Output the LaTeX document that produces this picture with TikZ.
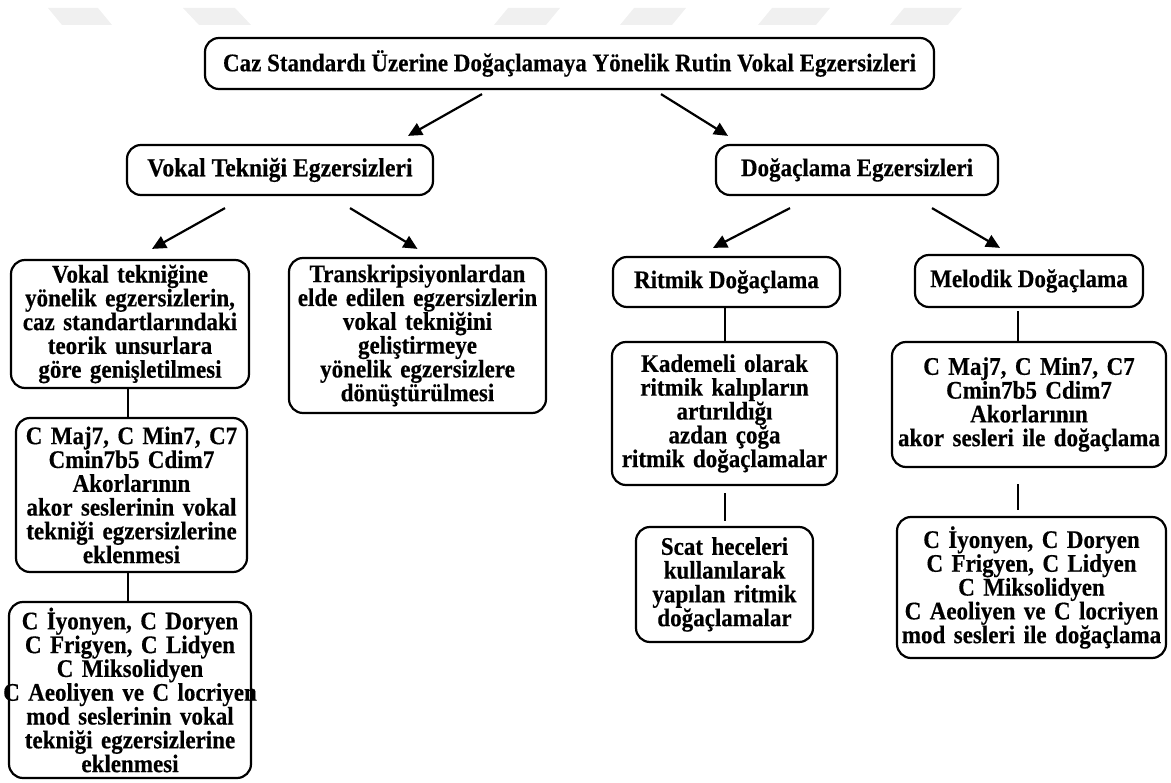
\documentclass[tikz,border=0pt]{standalone}
\usepackage{fontspec}
\setmainfont{Liberation Serif}
\newfontfamily\dfont{Liberation Serif}[FakeStretch=0.91, BoldFeatures={FakeStretch=0.91, FakeBold=0.4}]
\usetikzlibrary{arrows.meta,calc}
\tikzset{
  box/.style={draw=black, line width=2.2pt, rounded corners=14pt, fill=white,
    align=center, inner sep=0pt, font=\dfont\fontsize{25.3}{23.8}\selectfont\bfseries},
  arr/.style={line width=2.2pt, -{Triangle[length=14pt,width=13pt]}},
  lnk/.style={line width=2.2pt},
  wm/.style={fill=black!6, draw=none}
}
\begin{document}
\begin{tikzpicture}[x=1pt,y=-1pt]
\useasboundingbox (0,0) rectangle (1171,783);
% watermark shapes
\fill[wm] (48,8) -- (98,8) -- (112,25) -- (62,25) -- cycle;
\fill[wm] (183,8) -- (235,8) -- (251,25) -- (199,25) -- cycle;
\fill[wm] (508,8) -- (560,8) -- (546,25) -- (494,25) -- cycle;
\fill[wm] (634,8) -- (686,8) -- (672,25) -- (620,25) -- cycle;
\fill[wm] (772,8) -- (830,8) -- (816,25) -- (758,25) -- cycle;
\fill[wm] (904,8) -- (962,8) -- (948,25) -- (890,25) -- cycle;

\node[box, minimum width=729pt, minimum height=51pt, font=\dfont\fontsize{25.3}{24}\selectfont\bfseries] (top) at (569.5,63.5)
  {Caz Standardı Üzerine Doğaçlamaya Yönelik Rutin Vokal Egzersizleri};
\node[box, minimum width=306pt, minimum height=50pt, font=\dfont\fontsize{26}{24}\selectfont\bfseries] (vt) at (280,170)
  {Vokal Tekniği Egzersizleri};
\node[box, minimum width=282pt, minimum height=50pt] (de) at (857,170)
  {Doğaçlama Egzersizleri};

\node[box, text width=238pt, minimum height=128pt] (l1) at (130,324)
  {Vokal tekniğine\\ yönelik egzersizlerin,\\ caz standartlarındaki\\ teorik unsurlara\\ göre genişletilmesi};
\node[box, text width=231pt, minimum height=154pt] (l2) at (131.5,495)
  {C Maj7, C Min7, C7\\ Cmin7b5 Cdim7\\ Akorlarının\\ akor seslerinin vokal\\ tekniği egzersizlerine\\ eklenmesi};
\node[box, text width=242pt, minimum height=176pt] (l3) at (130,690)
  {C İyonyen, C Doryen\\ C Frigyen, C Lidyen\\ C Miksolidyen\\ \makebox[\linewidth][c]{C Aeoliyen ve C locriyen}\\ mod seslerinin vokal\\ tekniği egzersizlerine\\ eklenmesi};
\node[box, text width=257pt, minimum height=155pt] (tr) at (417.5,335.5)
  {Transkripsiyonlardan\\ elde edilen egzersizlerin\\ vokal tekniğini\\ geliştirmeye\\ yönelik egzersizlere\\ dönüştürülmesi};

\node[box, minimum width=227pt, minimum height=50pt] (rd) at (726.5,282)
  {Ritmik Doğaçlama};
\node[box, text width=225pt, minimum height=143pt] (kd) at (724.5,413.5)
  {Kademeli olarak\\ ritmik kalıpların\\ artırıldığı\\ azdan çoğa\\ ritmik doğaçlamalar};
\node[box, text width=177pt, minimum height=115pt] (sc) at (724.5,584.5)
  {Scat heceleri\\ kullanılarak\\ yapılan ritmik\\ doğaçlamalar};

\node[box, minimum width=228pt, minimum height=52pt] (md) at (1029,281)
  {Melodik Doğaçlama};
\node[box, text width=274pt, minimum height=125pt] (ch) at (1029,404.5)
  {C Maj7, C Min7, C7\\ Cmin7b5 Cdim7\\ Akorlarının\\ akor sesleri ile doğaçlama};
\node[box, text width=269pt, minimum height=141pt] (mo) at (1031.5,587.5)
  {C İyonyen, C Doryen\\ C Frigyen, C Lidyen\\ C Miksolidyen\\ C Aeoliyen ve C locriyen\\ mod sesleri ile doğaçlama};

% arrows
\draw[arr] ([xshift=-87.5pt,yshift=-4pt]top.south) -- ([xshift=128pt,yshift=8pt]vt.north);
\draw[arr] ([xshift=91.5pt,yshift=-4pt]top.south) -- ([xshift=-129pt,yshift=8pt]de.north);
\draw[arr] ([xshift=-55pt,yshift=-12pt]vt.south) -- ([xshift=22pt,yshift=10pt]l1.north);
\draw[arr] ([xshift=70pt,yshift=-12pt]vt.south) -- ([xshift=0pt,yshift=8pt]tr.north);
\draw[arr] ([xshift=-67pt,yshift=-12pt]de.south) -- ([xshift=-13.5pt,yshift=8pt]rd.north);
\draw[arr] ([xshift=75pt,yshift=-12pt]de.south) -- ([xshift=-29pt,yshift=6pt]md.north);

% plain links
\draw[lnk] ([xshift=-2pt]l1.south) -- ([xshift=-2pt]l1.south |- l2.north);
\draw[lnk] ([xshift=-3.5pt]l2.south) -- ([xshift=-3.5pt]l2.south |- l3.north);
\draw[lnk] ([xshift=-1.5pt]rd.south) -- ([xshift=-1.5pt]rd.south |- kd.north);
\draw[lnk] ([xshift=0.5pt,yshift=-7pt]kd.south) -- ([xshift=0.5pt,yshift=5pt]kd.south |- sc.north);
\draw[lnk] ([xshift=-11pt,yshift=-3pt]md.south) -- ([xshift=-11pt]md.south |- ch.north);
\draw[lnk] ([xshift=-11pt,yshift=-16pt]ch.south) -- ([xshift=-11pt,yshift=6pt]ch.south |- mo.north);
\end{tikzpicture}
\end{document}
